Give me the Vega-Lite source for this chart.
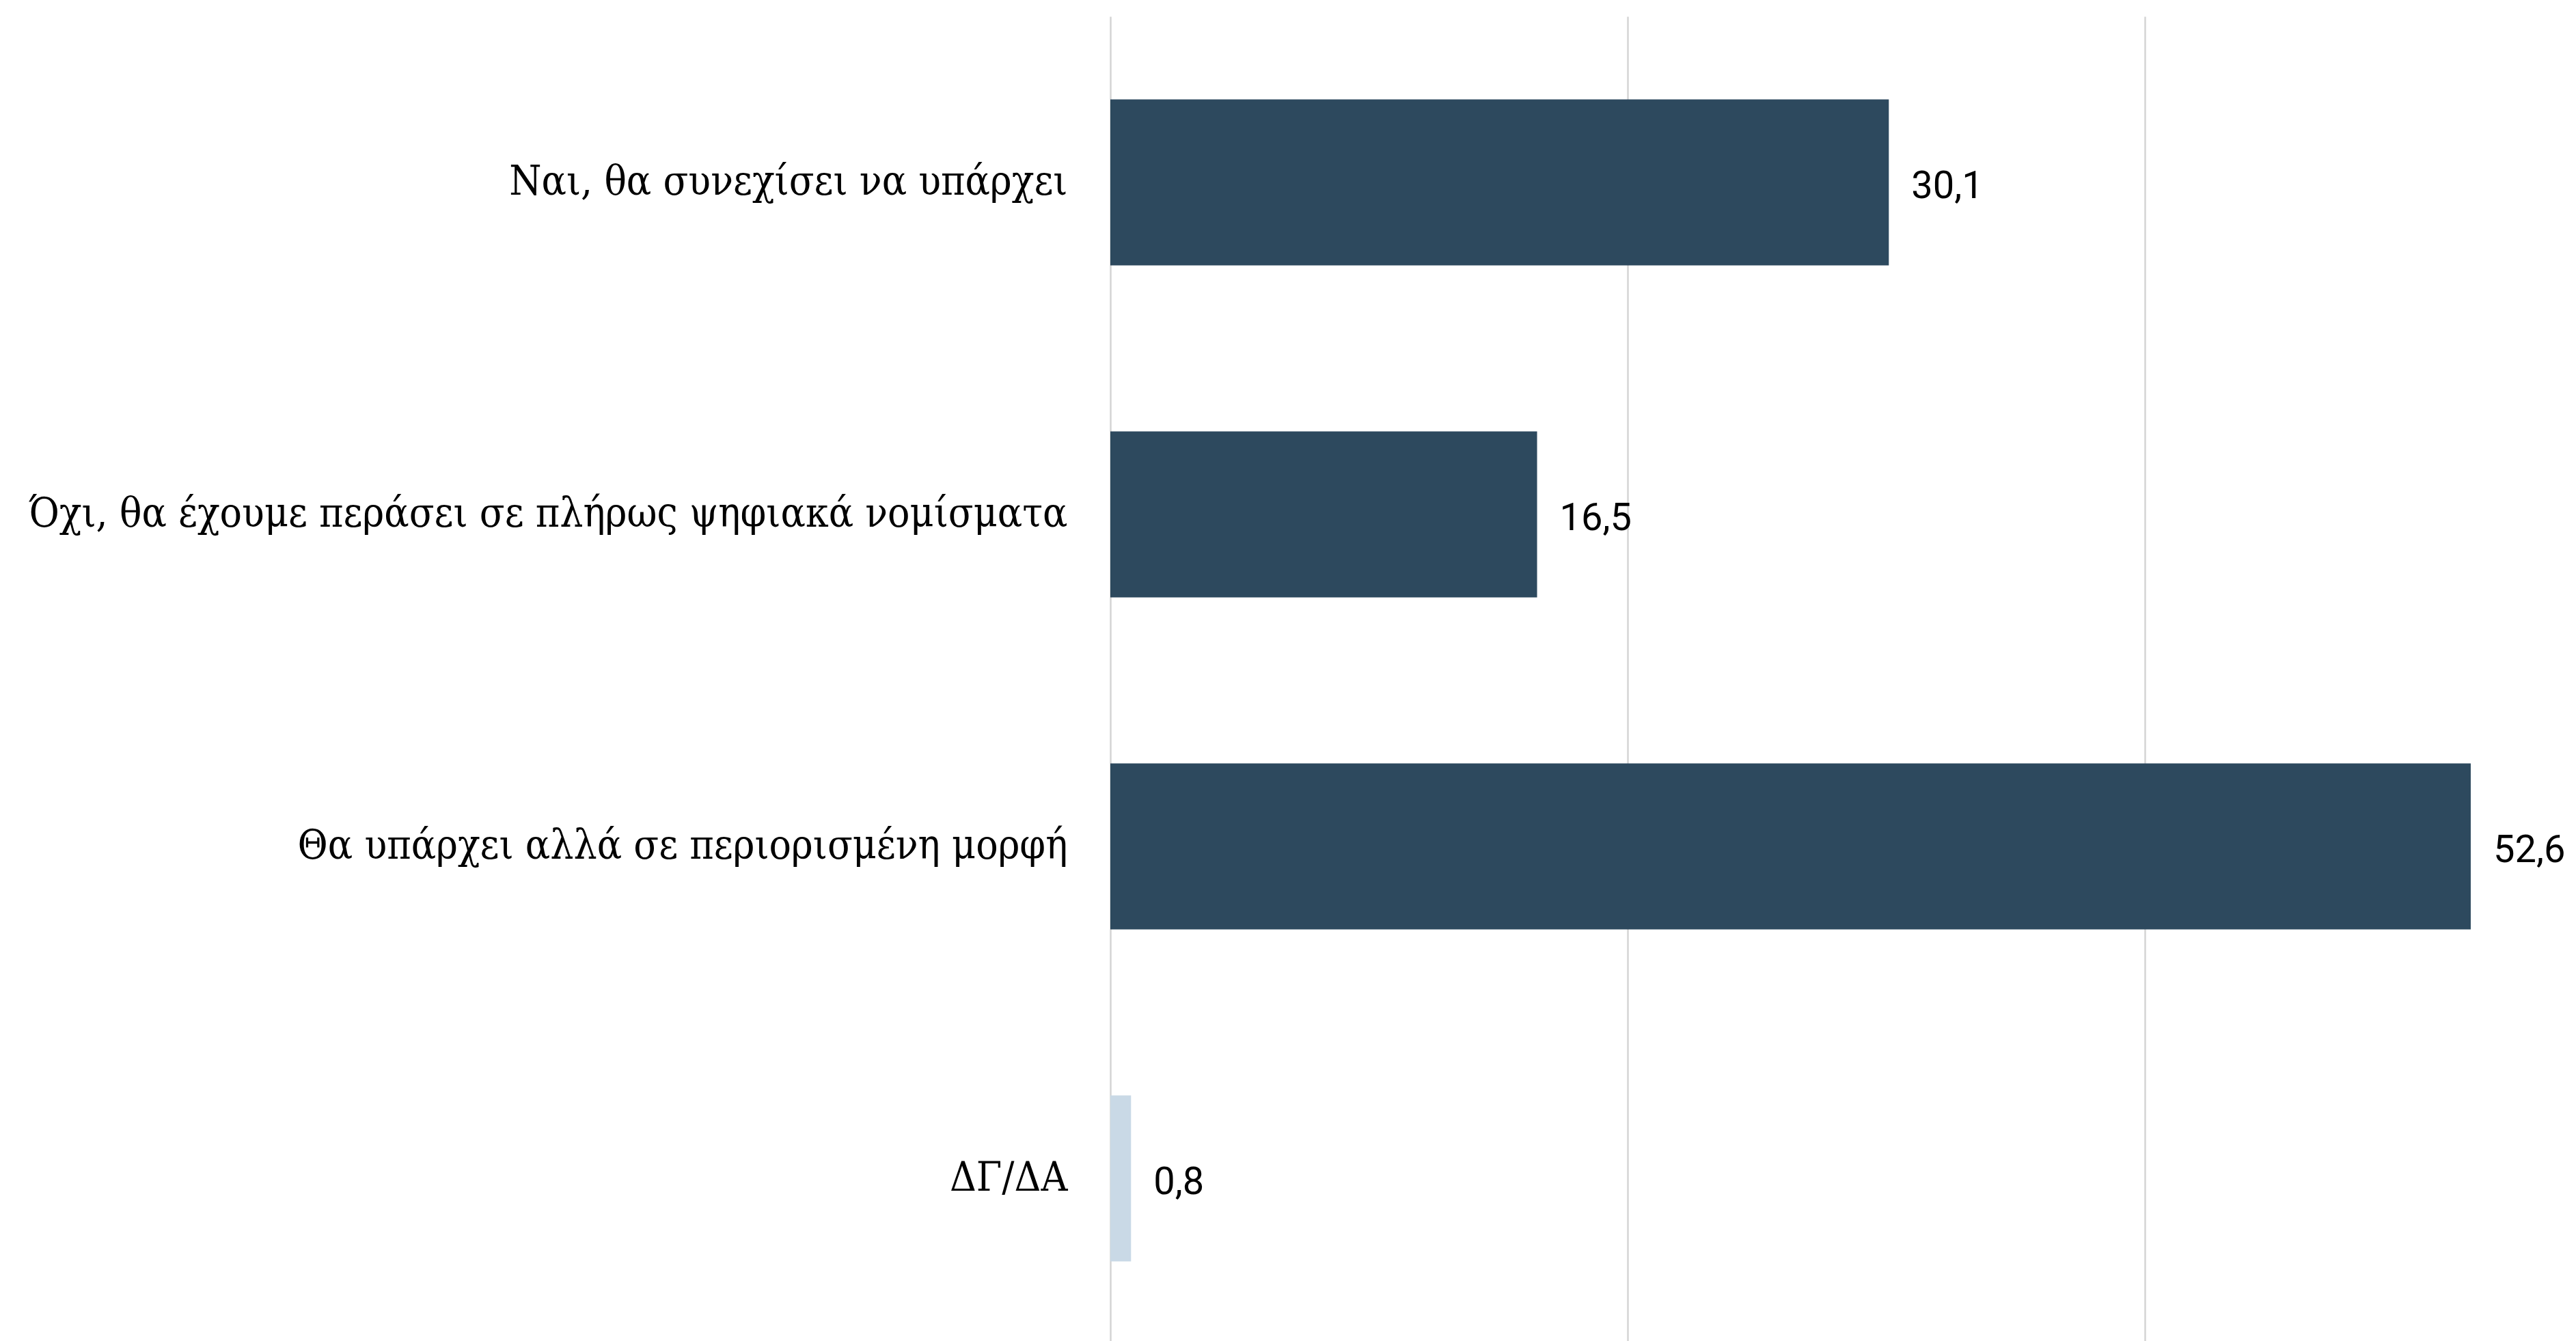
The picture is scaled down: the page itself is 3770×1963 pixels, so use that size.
{
  "$schema": "https://vega.github.io/schema/vega-lite/v6.json",
  "autosize": {"type": "none"},
  "width": 2145,
  "height": 1944,
  "padding": {"left": 1625, "top": 24, "right": 0, "bottom": 0},
  "background": "white",
  "config": {
    "view": {"stroke": null},
    "locale": {"number": {"decimal": ",", "thousands": ".", "grouping": [3], "currency": ["", " €"]}}
  },
  "data": {
    "values": [
      {"answer": "Ναι, θα συνεχίσει να υπάρχει", "value": 30.1, "group": "main"},
      {"answer": "Όχι, θα έχουμε περάσει σε πλήρως ψηφιακά νομίσματα", "value": 16.5, "group": "main"},
      {"answer": "Θα υπάρχει αλλά σε περιορισμένη μορφή", "value": 52.6, "group": "main"},
      {"answer": "ΔΓ/ΔΑ", "value": 0.8, "group": "dk"}
    ]
  },
  "encoding": {
    "y": {
      "field": "answer",
      "type": "nominal",
      "sort": null,
      "title": null,
      "scale": {"paddingInner": 0.5, "paddingOuter": 0.25},
      "axis": {
        "domain": false,
        "ticks": false,
        "labelPadding": 63,
        "labelFont": "DejaVu Serif Condensed",
        "labelFontSize": 60,
        "labelColor": "#000000",
        "labelLimit": 2000,
        "grid": false
      }
    },
    "x": {
      "field": "value",
      "type": "quantitative",
      "title": null,
      "scale": {"domain": [0, 56.67], "nice": false},
      "axis": {
        "values": [0, 20, 40],
        "labels": false,
        "ticks": false,
        "domain": false,
        "grid": true,
        "gridColor": "#d4d4d4",
        "gridWidth": 2.5
      }
    }
  },
  "layer": [
    {
      "mark": {"type": "bar"},
      "encoding": {
        "color": {
          "field": "group",
          "type": "nominal",
          "legend": null,
          "scale": {"domain": ["main", "dk"], "range": ["#2d495e", "#c9d9e6"]}
        }
      }
    },
    {
      "mark": {"type": "text", "align": "left", "baseline": "middle", "dx": 33, "dy": 6, "font": "Roboto", "fontSize": 56, "color": "#000000"},
      "encoding": {
        "text": {"field": "value", "type": "quantitative", "format": ".1f"}
      }
    }
  ]
}
